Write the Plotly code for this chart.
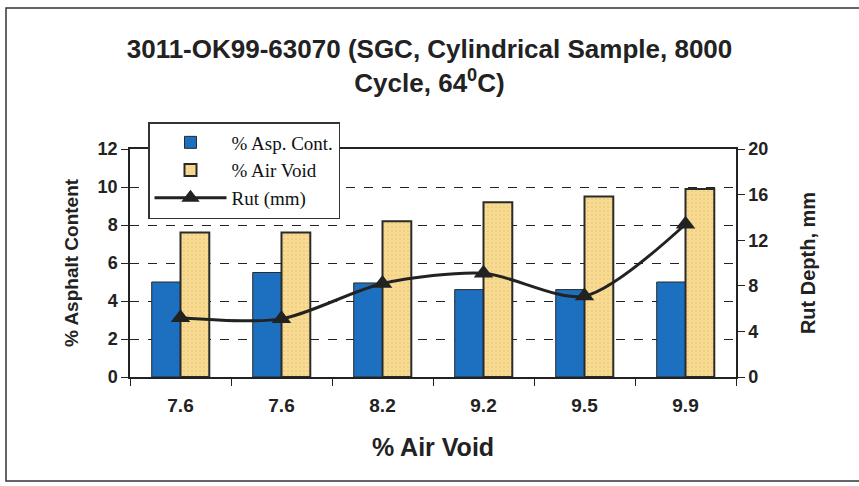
import plotly.graph_objects as go

categories = ["7.6", "7.6 ", "8.2", "9.2", "9.5", "9.9"]
tick_labels = ["7.6", "7.6", "8.2", "9.2", "9.5", "9.9"]
asphalt_content = [5.0, 5.5, 4.95, 4.6, 4.6, 5.0]
air_void = [7.6, 7.6, 8.2, 9.2, 9.5, 9.9]
rut_mm = [5.2, 5.1, 8.2, 9.1, 7.1, 13.4]

PL, PR, PT, PB = 130, 736, 149, 377
W, H = 859, 486

def px_x(p):
    return (p - PL) / (PR - PL)

def px_y(p):
    return (PB - p) / (PB - PT)

fig = go.Figure()
fig.add_trace(go.Bar(
    x=categories, y=asphalt_content, name="% Asp. Cont.",
    marker=dict(color="#1d6fbf", line=dict(color="#2a2a2a", width=1)),
))
fig.add_trace(go.Bar(
    x=categories, y=air_void, name="% Air Void",
    marker=dict(color="#f7dc8f", line=dict(color="#2a2a2a", width=2),
                pattern=dict(shape=".", fgcolor="#e0a080", bgcolor="#f7dc8f",
                             size=4, solidity=0.15)),
))
fig.add_trace(go.Scatter(
    x=categories, y=rut_mm, name="Rut (mm)", yaxis="y2",
    mode="lines+markers", line=dict(color="#222222", width=3, shape="spline", smoothing=0.8),
    marker=dict(symbol="triangle-up", size=17, color="#222222"),
))

axis_font = dict(family="Liberation Sans, Arial", size=18, color="#222222")
title_font = dict(family="Liberation Sans, Arial", size=19, color="#222222")

fig.update_layout(
    width=W, height=H,
    margin=dict(l=PL, r=W - PR, t=PT, b=H - PB, pad=0),
    paper_bgcolor="white", plot_bgcolor="white",
    barmode="group", bargap=0.43, bargroupgap=0,
    title=dict(
        text="<b>3011-OK99-63070 (SGC, Cylindrical Sample, 8000<br>Cycle, 64<sup>0</sup>C)</b>",
        x=0.5, xanchor="center", y=1 - 58 / H, yanchor="top",
        font=dict(family="Liberation Sans, Arial", size=26, color="#222222"),
    ),
    xaxis=dict(
        tickmode="array", tickvals=categories, ticktext=["<b>%s</b>" % t for t in tick_labels],
        tickfont=dict(family="Liberation Sans, Arial", size=19, color="#222222"),
        showline=True, linecolor="#222222", linewidth=1.5,
        mirror=True, ticks="outside", tickson="boundaries", ticklen=7, tickcolor="#222222",
        ticklabelstandoff=10,
        title=dict(text="<b>% Air Void</b>", font=dict(family="Liberation Sans, Arial", size=25, color="#222222"),
                   standoff=24),
        showgrid=False,
    ),
    yaxis=dict(
        range=[0, 12], tickvals=[0, 2, 4, 6, 8, 10, 12],
        ticktext=["<b>%d</b>" % v for v in [0, 2, 4, 6, 8, 10, 12]],
        tickfont=axis_font, showline=True, linecolor="#222222", linewidth=1.5,
        ticks="outside", ticklen=7, tickcolor="#222222",
        showgrid=True, gridcolor="#222222", griddash="dash", gridwidth=1.2,
        zeroline=False,
        title=dict(text="<b>% Asphalt Content</b>", font=title_font, standoff=14),
    ),
    yaxis2=dict(
        range=[0, 20], tickvals=[0, 4, 8, 12, 16, 20],
        ticktext=["<b>%d</b>" % v for v in [0, 4, 8, 12, 16, 20]],
        overlaying="y", side="right",
        tickfont=axis_font, showline=True, linecolor="#222222", linewidth=1.5,
        ticks="outside", ticklen=7, tickcolor="#222222",
        showgrid=False, zeroline=False,
        title=dict(text="<b>Rut Depth, mm</b>", font=dict(family="Liberation Sans, Arial", size=20, color="#222222"),
                   standoff=34),
    ),
    legend=dict(
        x=px_x(148), y=px_y(122), xanchor="left", yanchor="top",
        bgcolor="white", bordercolor="#333333", borderwidth=1.5,
        font=dict(family="Liberation Serif, Times New Roman", size=19, color="#111111"),
        itemwidth=72, tracegroupgap=0,
    ),
    shapes=[dict(
        type="rect", xref="paper", yref="paper",
        x0=px_x(6), x1=px_x(862), y0=px_y(481), y1=px_y(8),
        line=dict(color="#333333", width=1.5), layer="below",
    )],
    showlegend=True,
)

fig.write_html("out.html")
